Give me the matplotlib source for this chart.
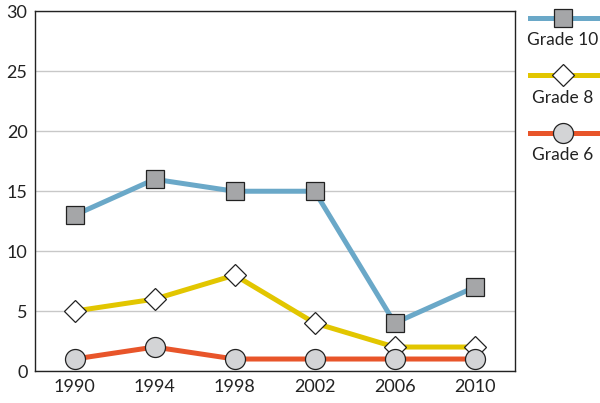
import matplotlib
matplotlib.use("Agg")
import matplotlib.pyplot as plt
from matplotlib.lines import Line2D

years = ["1990", "1994", "1998", "2002", "2006", "2010"]
grade10 = [13, 16, 15, 15, 4, 7]
grade8 = [5, 6, 8, 4, 2, 2]
grade6 = [1, 2, 1, 1, 1, 1]

BLUE = "#6aa8c8"; YEL = "#e2c600"; RED = "#e8552a"; INK = "#222222"
plt.rcParams["font.family"] = ["Lato", "DejaVu Sans"]

fig = plt.figure(figsize=(6, 4.03), dpi=100)
ax = fig.add_axes([0.0575, 0.0794, 0.8005, 0.8921])
x = range(len(years))

series = [(grade10, BLUE, "s", "#a5a6a8", 12.5, "Grade 10"),
          (grade8, YEL, "D", "white", 11.7, "Grade 8"),
          (grade6, RED, "o", "#d3d4d6", 14.4, "Grade 6")]
for vals, col, mk, fc, ms, lab in series:
    ax.plot(x, vals, color=col, lw=3.6, marker=mk, ms=ms, mfc=fc,
            mec=INK, mew=0.9)

ax.set_xlim(-0.5, len(years) - 0.5)
ax.set_ylim(0, 30)
ax.set_yticks(range(0, 31, 5))
ax.set_xticks(list(x))
ax.set_xticklabels(years)
ax.tick_params(length=0, labelsize=13, colors=INK, pad=6)
ax.tick_params(axis="y", pad=5)
ax.grid(axis="y", color="#c8c8c8", lw=1)
ax.set_axisbelow(True)
for s in ax.spines.values():
    s.set_color(INK); s.set_linewidth(1)

# legend drawn by hand at the right
ys = [0.955, 0.813, 0.670]
for (vals, col, mk, fc, ms, lab), yy in zip(series, ys):
    fig.add_artist(Line2D([0.883, 0.997], [yy, yy], transform=fig.transFigure,
                          color=col, lw=3.6))
    fig.add_artist(Line2D([0.938], [yy], transform=fig.transFigure, marker=mk,
                          ms=ms, mfc=fc, mec=INK, mew=0.9, lw=0))
    fig.text(0.938, yy - 0.055, lab, ha="center", va="center", fontsize=12.5, color=INK)

fig.savefig("out.png", dpi=100)
